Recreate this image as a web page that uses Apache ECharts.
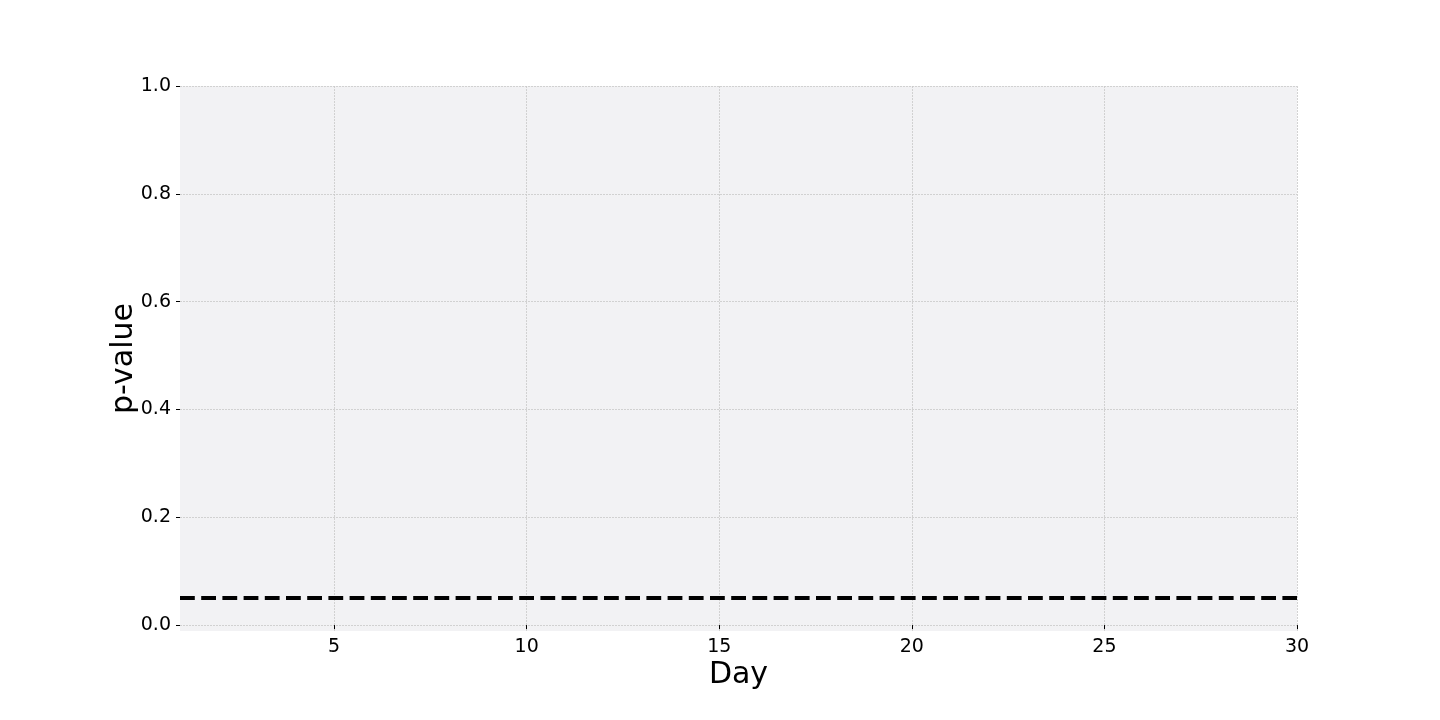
<!DOCTYPE html>
<html>
<head>
<meta charset="utf-8">
<script src="https://cdn.jsdelivr.net/npm/echarts@6/dist/echarts.min.js"></script>
<style>html,body{margin:0;padding:0;background:#fff}#c{width:1440px;height:720px}</style>
</head>
<body>
<div id="c"></div>
<script>
const days = [1, 30];
const alphaLevel = [0.05, 0.05];
const xTicks = [5, 10, 15, 20, 25, 30];
const yTicks = [0.0, 0.2, 0.4, 0.6, 0.8, 1.0];

const chart = echarts.init(document.getElementById('c'), null, {renderer: 'canvas'});
const font = 'DejaVu Sans';
chart.setOption({
  animation: false,
  backgroundColor: '#ffffff',
  grid: {left: 180, right: 143, top: 86, bottom: 89, show: true, backgroundColor: '#f2f2f4', borderWidth: 0},
  xAxis: {
    type: 'value', min: 1, max: 30,
    name: 'Day', nameLocation: 'middle', nameGap: 29, nameMoveOverlap: false,
    nameTextStyle: {fontFamily: font, fontSize: 30, color: '#000', verticalAlign: 'top'},
    axisLine: {show: false},
    axisTick: {show: true, length: 4, customValues: xTicks, lineStyle: {color: '#000', width: 1}},
    axisLabel: {customValues: xTicks, fontFamily: font, fontSize: 19, color: '#000', margin: 7},
    splitLine: {show: true, lineStyle: {color: '#c8c8c8', width: 0.8, type: [2, 1]}}
  },
  yAxis: {
    type: 'value', min: -0.011, max: 1.0,
    name: 'p-value', nameLocation: 'middle', nameGap: 41, nameMoveOverlap: false,
    nameTextStyle: {fontFamily: font, fontSize: 30, color: '#000'},
    axisLine: {show: false},
    axisTick: {show: true, length: 4, customValues: yTicks, lineStyle: {color: '#000', width: 1}},
    axisLabel: {customValues: yTicks, fontFamily: font, fontSize: 19, color: '#000', margin: 9,
      formatter: v => v.toFixed(1)},
    splitLine: {show: true, lineStyle: {color: '#c8c8c8', width: 0.8, type: [2, 1]}}
  },
  series: [{
    type: 'line',
    data: days.map((d, i) => [d, alphaLevel[i]]),
    symbol: 'none',
    lineStyle: {color: '#000', width: 4, type: [14.8, 6.4]}
  }]
});
</script>
</body>
</html>
